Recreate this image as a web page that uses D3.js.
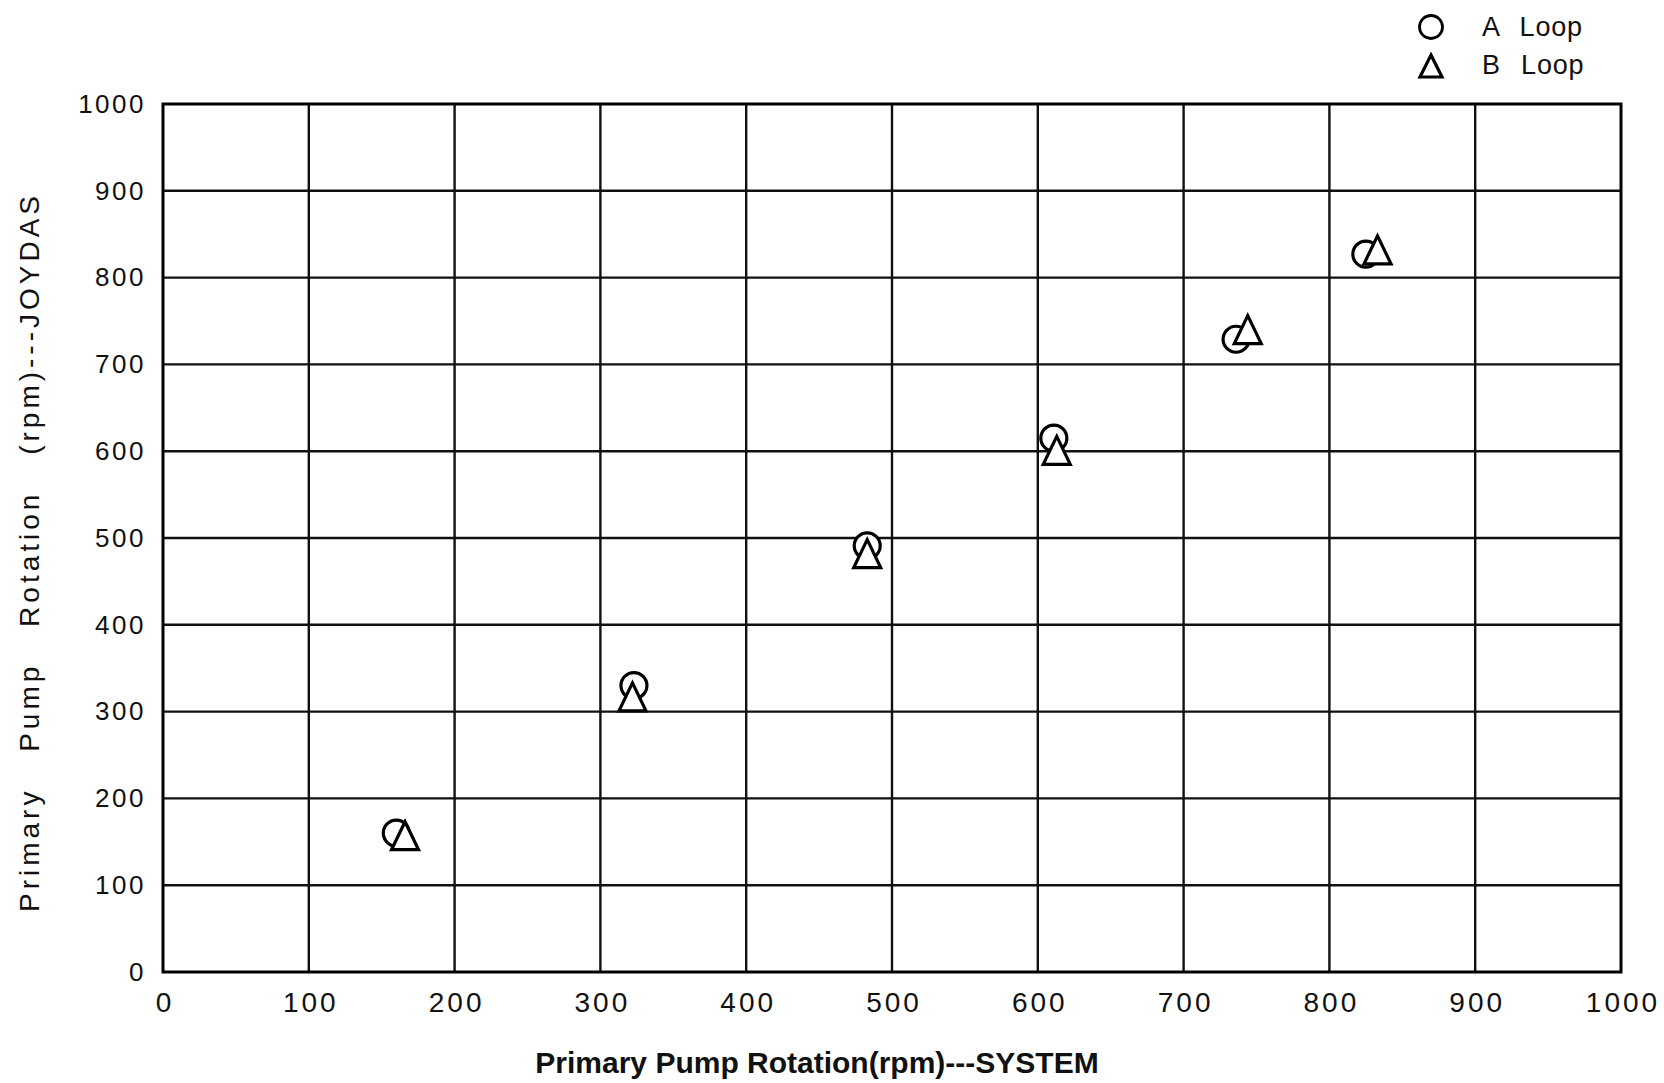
<!DOCTYPE html>
<html><head><meta charset="utf-8">
<script src="https://cdn.jsdelivr.net/npm/d3@7"></script>
<style>
html,body{margin:0;padding:0;background:#fff;}
text{font-family:"Liberation Sans",Arial,sans-serif;fill:#111;}
</style></head>
<body><svg id="chart" width="1664" height="1083"></svg>
<script>
const xTicks = [0,100,200,300,400,500,600,700,800,900,1000];
const yTicks = [0,100,200,300,400,500,600,700,800,900,1000];
const seriesNames = ["A Loop","B Loop"];
const aX = [160,323,483,611,736,825];
const aY = [160,330,491,615,729,827];
const bX = [166,322,483,613,744,833];
const bY = [157,317,482,601,740,832];
const xTitle = "Primary Pump Rotation(rpm)---SYSTEM";
const yTitleWords = ["Primary","Pump","Rotation","(rpm)---JOYDAS"];

const W=1664,H=1083;
const m={left:163,top:104,right:43,bottom:111};
const svg=d3.select("#chart");
const x=d3.scaleLinear().domain([0,1000]).range([m.left,W-m.right]);
const y=d3.scaleLinear().domain([0,1000]).range([H-m.bottom,m.top]);

// grid
const g=svg.append("g");
g.selectAll("line.v").data(xTicks.slice(1,-1)).join("line")
 .attr("x1",d=>x(d)).attr("x2",d=>x(d)).attr("y1",y(0)).attr("y2",y(1000))
 .attr("stroke","#111").attr("stroke-width",2.4);
g.selectAll("line.h").data(yTicks.slice(1,-1)).join("line")
 .attr("y1",d=>y(d)).attr("y2",d=>y(d)).attr("x1",x(0)).attr("x2",x(1000))
 .attr("stroke","#111").attr("stroke-width",2.4);
// frame
svg.append("rect").attr("x",x(0)).attr("y",y(1000)).attr("width",x(1000)-x(0)).attr("height",y(0)-y(1000))
 .attr("fill","none").attr("stroke","#000").attr("stroke-width",3);

// axes via d3 axis, with no domain/ticks lines
const xa=svg.append("g").attr("transform",`translate(0,${y(0)})`)
 .call(d3.axisBottom(x).tickValues(xTicks).tickSize(0).tickPadding(20).tickFormat(d3.format("d")));
xa.select(".domain").remove();
xa.selectAll("text").attr("font-size",28).attr("letter-spacing",3).attr("dx",1.5).attr("font-family","Liberation Sans, Arial").attr("fill","#111");
const ya=svg.append("g").attr("transform",`translate(${x(0)},0)`)
 .call(d3.axisLeft(y).tickValues(yTicks).tickSize(0).tickPadding(17).tickFormat(d3.format("d")));
ya.select(".domain").remove();
ya.selectAll("text").attr("font-size",26).attr("letter-spacing",2.5).attr("font-family","Liberation Sans, Arial").attr("fill","#111");

// titles
svg.append("text").attr("x",817).attr("y",1073).attr("text-anchor","middle")
 .attr("font-size",30).attr("font-weight","bold").text(xTitle);
const yt=svg.append("text").attr("transform",`translate(39,552) rotate(-90)`).attr("text-anchor","middle")
 .attr("font-size",28).attr("letter-spacing",4).attr("word-spacing",24);
yt.text(yTitleWords.join(" "));

// markers
const r=13;
const triPath=(cx,cy)=>{const h=28,w=27;return `M${cx},${cy-h/2}L${cx+w/2},${cy+h/2}L${cx-w/2},${cy+h/2}Z`;};
const aData=aX.map((v,i)=>({x:v,y:aY[i]}));
const bData=bX.map((v,i)=>({x:v,y:bY[i]}));
svg.append("g").selectAll("circle").data(aData).join("circle")
 .attr("cx",d=>x(d.x)).attr("cy",d=>y(d.y)).attr("r",r)
 .attr("fill","#fff").attr("stroke","#000").attr("stroke-width",3.2);
svg.append("g").selectAll("path").data(bData).join("path")
 .attr("d",d=>triPath(x(d.x),y(d.y)))
 .attr("fill","#fff").attr("stroke","#000").attr("stroke-width",3.2).attr("stroke-linejoin","miter");

// legend
const lg=svg.append("g");
lg.append("circle").attr("cx",1431).attr("cy",27).attr("r",11.5).attr("fill","none").attr("stroke","#000").attr("stroke-width",2.8);
lg.append("path").attr("d",(()=>{const cx=1431,cy=66,h=22,w=22;return `M${cx},${cy-h/2}L${cx+w/2},${cy+h/2}L${cx-w/2},${cy+h/2}Z`;})())
 .attr("fill","none").attr("stroke","#000").attr("stroke-width",3.2);
lg.selectAll("text").data(seriesNames).join("text")
 .attr("x",1482).attr("y",(d,i)=>36+i*38).attr("font-size",27).attr("letter-spacing",0.8).attr("word-spacing",12).text(d=>d);
</script></body></html>
